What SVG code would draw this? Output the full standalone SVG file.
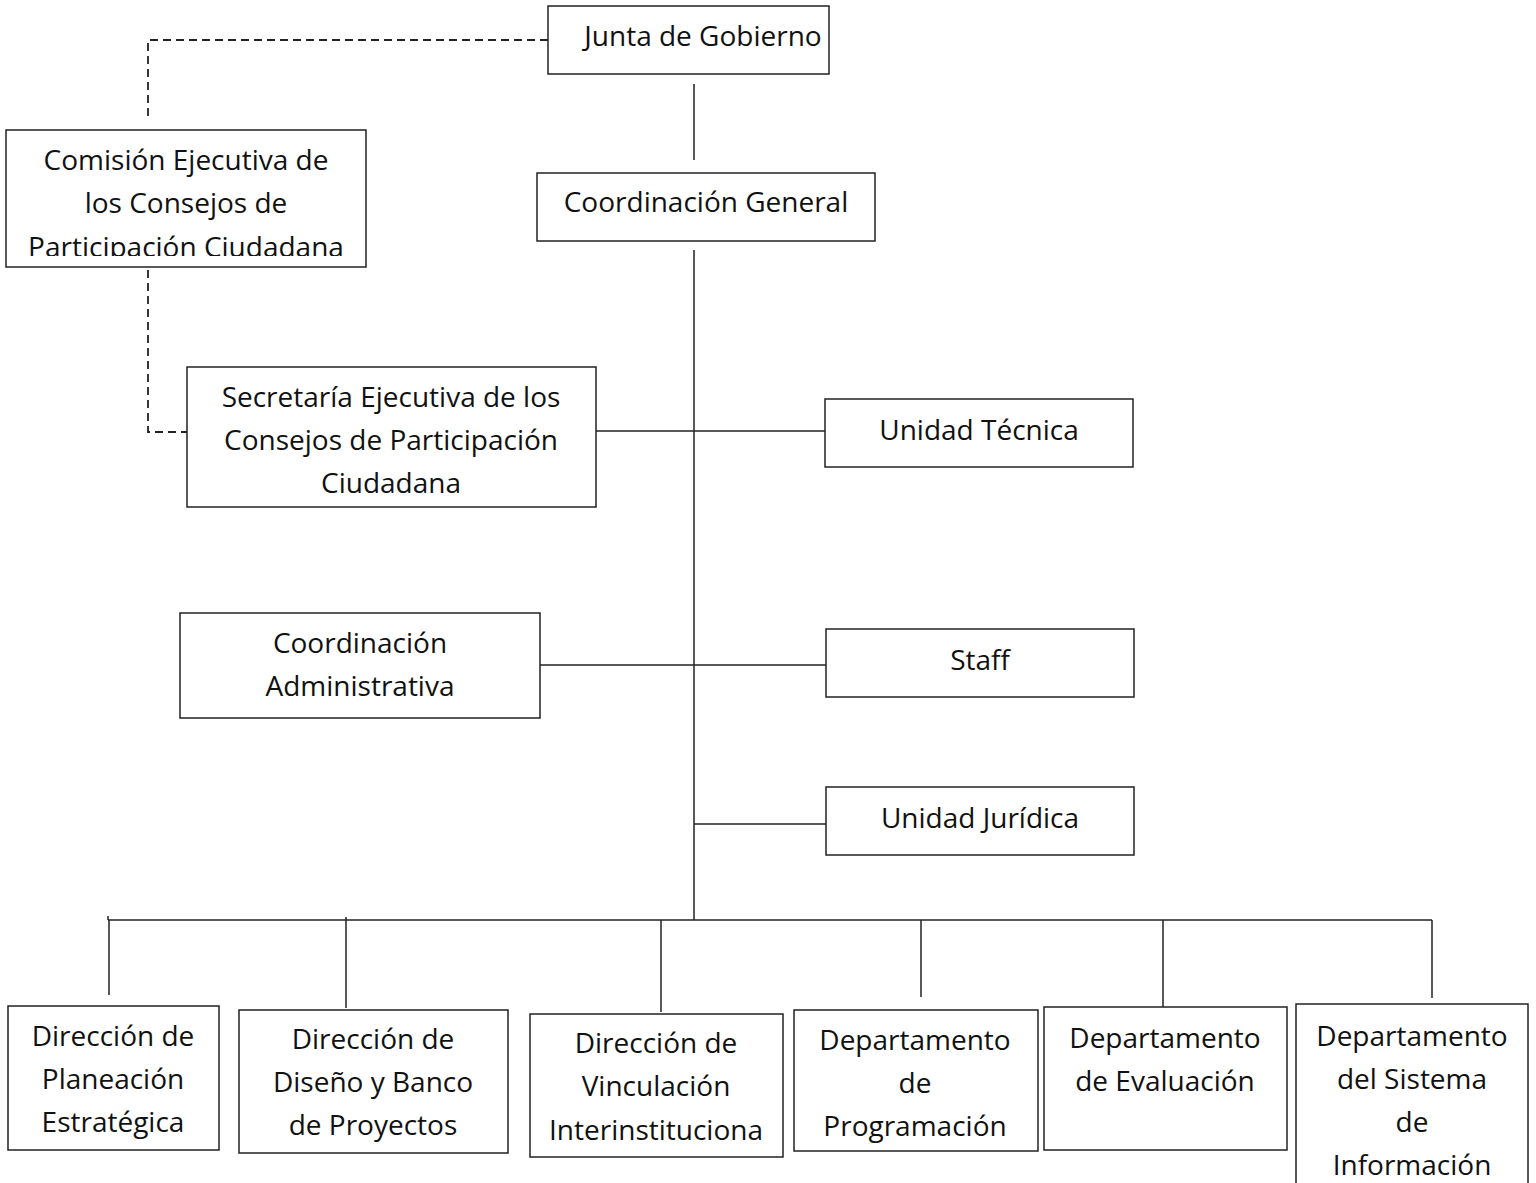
<svg xmlns="http://www.w3.org/2000/svg" width="1536" height="1183" viewBox="0 0 1536 1183">
<style>
.box{fill:#fff;stroke:#222;stroke-width:1.5}
.ln{stroke:#222;stroke-width:1.5;fill:none}
.dash{stroke:#222;stroke-width:1.8;fill:none;stroke-dasharray:8 5}
text{font-family:"Open Sans","Liberation Sans",sans-serif;font-size:28px;fill:#111;text-anchor:middle}
</style>
<defs>
<clipPath id="clipCom"><rect x="6" y="130" width="360" height="126"/></clipPath>
</defs>
<g id="connectors">
<path class="dash" d="M548,40 H148 V116"/>
<path class="dash" d="M148,270 V432 H187"/>
<path class="ln" d="M694,84 V160"/>
<path class="ln" d="M694,250 V920"/>
<path class="ln" d="M596,431 H825"/>
<path class="ln" d="M540,665 H826"/>
<path class="ln" d="M694,824 H826"/>
<path class="ln" d="M108,920 H1432"/>
<path class="ln" d="M108,916 V920"/>
<path class="ln" d="M109,920 V995"/>
<path class="ln" d="M346,917 V1008"/>
<path class="ln" d="M661,920 V1012"/>
<path class="ln" d="M921,920 V997"/>
<path class="ln" d="M1163,920 V1010"/>
<path class="ln" d="M1432,920 V998"/>
</g>
<g id="junta"><rect class="box" x="548" y="6" width="281" height="68"/><text x="703" y="46">Junta de Gobierno</text></g>
<g id="coordGeneral"><rect class="box" x="537" y="173" width="338" height="68"/><text x="706" y="212">Coordinación General</text></g>
<g id="comision"><rect class="box" x="6" y="130" width="360" height="137"/>
<g clip-path="url(#clipCom)"><text x="186" y="170">Comisión Ejecutiva de</text><text x="186" y="213">los Consejos de</text><text x="186" y="257">Participación Ciudadana</text></g></g>
<g id="secretaria"><rect class="box" x="187" y="367" width="409" height="140"/><text x="391" y="407">Secretaría Ejecutiva de los</text><text x="391" y="450">Consejos de Participación</text><text x="391" y="493">Ciudadana</text></g>
<g id="unidadTecnica"><rect class="box" x="825" y="399" width="308" height="68"/><text x="979" y="440">Unidad Técnica</text></g>
<g id="coordAdmin"><rect class="box" x="180" y="613" width="360" height="105"/><text x="360" y="653">Coordinación</text><text x="360" y="696">Administrativa</text></g>
<g id="staff"><rect class="box" x="826" y="629" width="308" height="68"/><text x="980" y="670">Staff</text></g>
<g id="unidadJuridica"><rect class="box" x="826" y="787" width="308" height="68"/><text x="980" y="828">Unidad Jurídica</text></g>
<g id="dirPlaneacion"><rect class="box" x="8" y="1006" width="211" height="144"/><text x="113" y="1046">Dirección de</text><text x="113" y="1089">Planeación</text><text x="113" y="1132">Estratégica</text></g>
<g id="dirDiseno"><rect class="box" x="239" y="1010" width="269" height="143"/><text x="373" y="1049">Dirección de</text><text x="373" y="1092">Diseño y Banco</text><text x="373" y="1135">de Proyectos</text></g>
<g id="dirVinculacion"><rect class="box" x="530" y="1014" width="253" height="143"/><text x="656" y="1053">Dirección de</text><text x="656" y="1096">Vinculación</text><text x="656" y="1140">Interinstituciona</text></g>
<g id="depProgramacion"><rect class="box" x="794" y="1010" width="244" height="141"/><text x="915" y="1050">Departamento</text><text x="915" y="1093">de</text><text x="915" y="1136">Programación</text></g>
<g id="depEvaluacion"><rect class="box" x="1044" y="1007" width="243" height="143"/><text x="1165" y="1048">Departamento</text><text x="1165" y="1091">de Evaluación</text></g>
<g id="depSistema"><rect class="box" x="1296" y="1004" width="232" height="190"/><text x="1412" y="1046">Departamento</text><text x="1412" y="1089">del Sistema</text><text x="1412" y="1132">de</text><text x="1412" y="1175">Información</text></g>
</svg>
